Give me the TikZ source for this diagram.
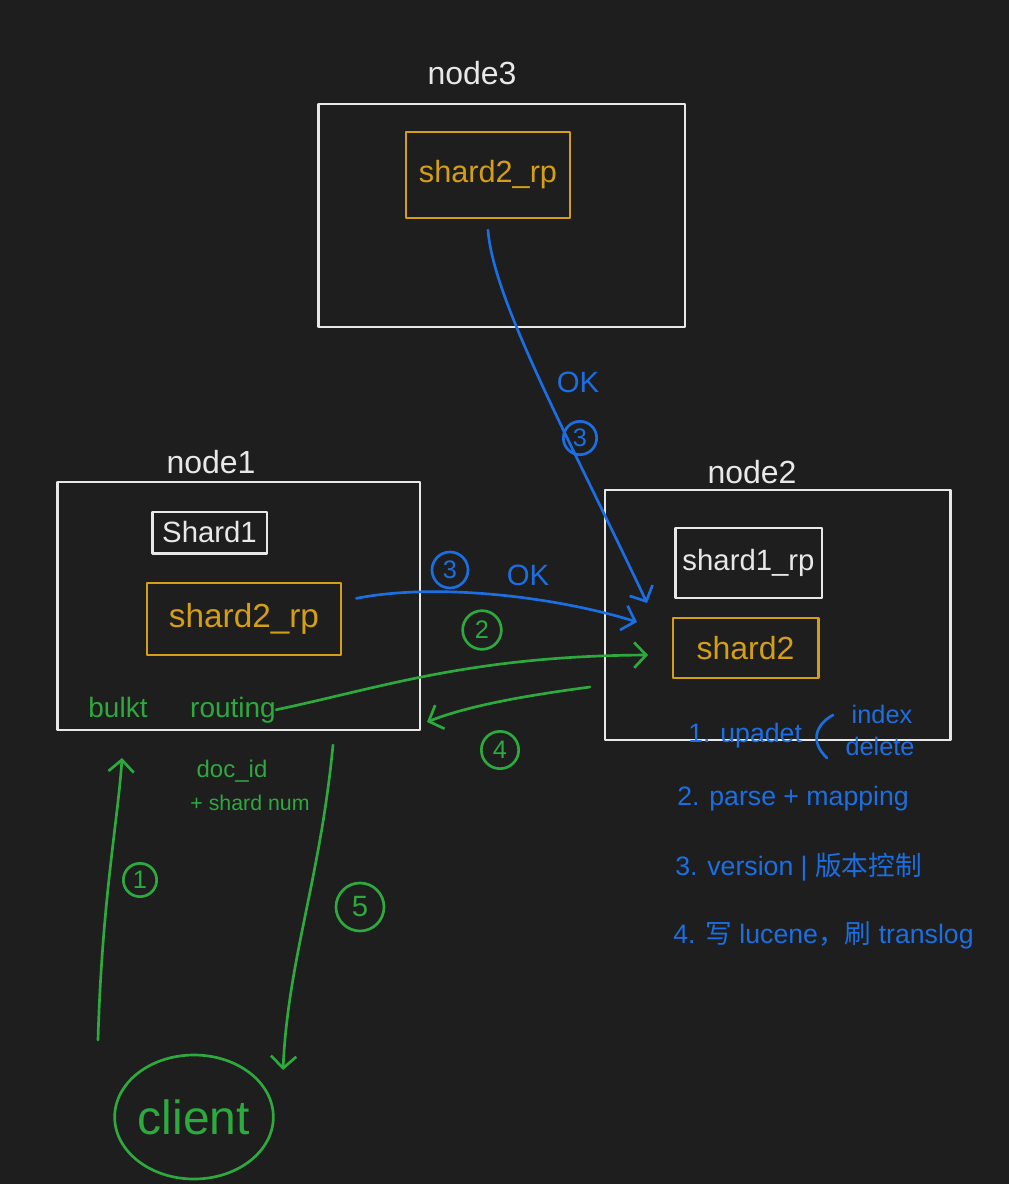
\documentclass[tikz,border=0pt]{standalone}
\usepackage{fontspec}
\setmainfont{Liberation Sans}
\newfontfamily\cjkfont{Noto Sans CJK SC}
\usetikzlibrary{arrows.meta,shapes.geometric}
\definecolor{bgc}{HTML}{1E1E1E}
\definecolor{wc}{HTML}{E8E8E8}
\definecolor{oc}{HTML}{D49F16}
\definecolor{bc}{HTML}{1B6FE3}
\definecolor{gc}{HTML}{2DAA3E}
\newcommand{\fs}[1]{\fontsize{#1}{#1}\selectfont}
\begin{document}
\begin{tikzpicture}[x=0.75pt,y=-0.75pt,
  ln/.style={line width=2pt, line cap=round, line join=round},
  box/.style={draw, ln, rectangle, inner sep=0pt},
  whitebox/.style={box, draw=wc, text=wc},
  orangebox/.style={box, draw=oc, text=oc},
  lbl/.style={text=wc, font=\fs{24}, inner sep=0pt},
  gtxt/.style={text=gc, inner sep=0pt},
  btxt/.style={text=bc, font=\fs{20}, inner sep=0pt},
  circnum/.style={circle, draw, ln, minimum size=27pt, inner sep=0pt, font=\fs{19}},
  arr/.style={ln, -{Straight Barb[length=9pt,width=19pt]}}
]
\useasboundingbox (0,0) rectangle (1008,1184);
\fill[bgc] (-10,-10) rectangle (1020,1195);

% ---------- node3 ----------
\node[lbl, anchor=base] (n3lbl) at (472,85) {node3};
\node[whitebox, minimum width=275pt, minimum height=167pt] (n3) at (501.5,215.5) {};
\node[orangebox, minimum width=123pt, minimum height=64.5pt, font=\fs{23}] (n3s) at (488,175) {shard2\_rp};

% ---------- node1 ----------
\node[lbl, anchor=base] (n1lbl) at (211,473) {node1};
\node[whitebox, minimum width=272pt, minimum height=186pt] (n1) at (238.5,606) {};
\node[whitebox, minimum width=86pt, minimum height=31pt, font=\fs{22}] (n1s1) at (209.5,532.5) {Shard1};
\node[orangebox, minimum width=145.5pt, minimum height=54pt, font=\fs{25}] (n1s2) at (244,619) {shard2\_rp};
\node[gtxt, font=\fs{21}, anchor=base] (bulk) at (118,717) {bulkt};
\node[gtxt, font=\fs{21}, anchor=base] (routing) at (233,717) {routing};
\node[gtxt, font=\fs{18}, anchor=base] (docid) at (232,777) {doc\_id};
\node[gtxt, font=\fs{16}, anchor=base] (shnum) at (250,810) {+ shard num};

% ---------- node2 ----------
\node[lbl, anchor=base] (n2lbl) at (752,483) {node2};
\node[whitebox, minimum width=259pt, minimum height=187.5pt] (n2) at (777.5,615) {};
\node[whitebox, minimum width=110pt, minimum height=52.5pt, font=\fs{22}] (n2s1) at (748.5,563) {shard1\_rp};
\node[orangebox, minimum width=109pt, minimum height=45pt, font=\fs{24}] (n2s2) at (745.5,648) {shard2};

% ---------- blue notes ----------
\node[btxt, anchor=base west] (s1) at (688,742) {1. upadet};
\node[btxt, font=\fs{19}, anchor=base] (sidx) at (882,723) {index};
\node[btxt, font=\fs{19}, anchor=base] (sdel) at (880,755) {delete};
\draw[ln, bc] (833,715) .. controls (815,725) and (810,742) .. (827,758);
\node[btxt, anchor=base west] (s2) at (677,805) {2. parse + mapping};
\node[btxt, anchor=base west] (s3) at (675,875) {3. version | {\cjkfont 版本控制}};
\node[btxt, anchor=base west] (s4) at (673,943) {4. {\cjkfont 写} lucene{\cjkfont ，刷} translog};

% ---------- client ----------
\node[ellipse, draw=gc, ln, text=gc, minimum width=119pt, minimum height=93pt, inner sep=0pt, font=\fs{36}] (client) at (194,1117) {client};

% ---------- connectors ----------
\coordinate (t3) at (647,603);
\draw[arr, bc] ([yshift=-8pt]n3s.south) .. controls (493,300) and (570,440) .. (t3);
\node[text=bc, font=\fs{22}, anchor=base] (ok3) at (578,392) {OK};
\node[circnum, draw=bc, text=bc, minimum size=25pt] (c3a) at (580,438) {3};

\coordinate (t1) at (637,622);
\draw[arr, bc] ([xshift=10.5pt,yshift=15.5pt]n1s2.east) .. controls (440,582) and (560,598) .. (t1);
\node[circnum, draw=bc, text=bc] (c3b) at (450,570) {3};
\node[text=bc, font=\fs{22}, anchor=base] (ok1) at (528,585) {OK};

\coordinate (t2) at (648,655);
\draw[arr, gc] (routing.east) .. controls (380,688) and (470,656) .. (t2);
\node[circnum, draw=gc, text=gc, minimum size=29pt] (c2) at (482,630) {2};

\coordinate (g4s) at (590,687);
\coordinate (g4t) at (427,722);
\draw[arr, gc] (g4s) .. controls (530,695) and (470,705) .. (g4t);
\node[circnum, draw=gc, text=gc, minimum size=28pt] (c4) at (500,750) {4};

\coordinate (c1s) at (98,1040);
\coordinate (c1t) at (122,758);
\draw[arr, gc] (c1s) .. controls (102,900) and (118,820) .. (c1t);
\node[circnum, draw=gc, text=gc, minimum size=25pt] (c1) at (140,880) {1};

\coordinate (c5s) at (333,745);
\coordinate (c5t) at (283,1070);
\draw[arr, gc] (c5s) .. controls (320,880) and (288,960) .. (c5t);
\node[circnum, draw=gc, text=gc, minimum size=36pt, font=\fs{22}] (c5) at (360,907) {5};
\end{tikzpicture}
\end{document}
